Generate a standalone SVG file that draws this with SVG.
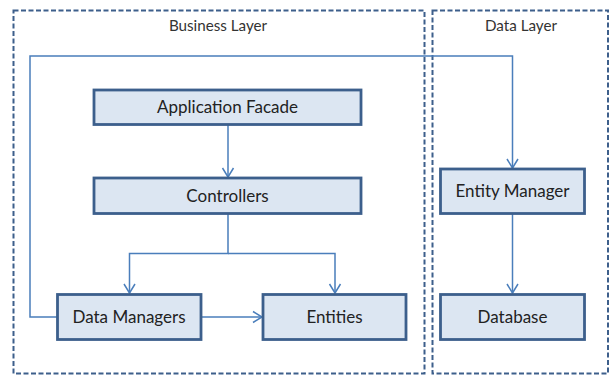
<svg xmlns="http://www.w3.org/2000/svg" width="611" height="375" viewBox="0 0 611 375">
<style>
.layer{fill:none;stroke:#3d5f8b;stroke-width:2;stroke-dasharray:5 2.5}
.node rect{fill:#dce6f2;stroke:#3c5f8c;stroke-width:2.8}
.lbl{font-family:Lato,"Liberation Sans",sans-serif;font-size:17px;fill:#222;text-anchor:middle}
.ttl{font-family:Lato,"Liberation Sans",sans-serif;font-size:15.2px;fill:#333;text-anchor:middle}
.conn{fill:none;stroke:#4a7ebb;stroke-width:1.5}
</style>
<defs>
<marker id="arr" markerUnits="userSpaceOnUse" markerWidth="20" markerHeight="20" viewBox="-10 -10 20 20" refX="0" refY="0" orient="auto">
<path d="M-9,-5.5 L0,0 L-9,5.5" fill="none" stroke="#4a7ebb" stroke-width="1.5"/>
</marker>
</defs>
<rect width="611" height="375" fill="#fff"/>
<g id="business-layer">
<rect class="layer" x="13.5" y="10.5" width="411" height="363"/>
<text class="ttl" x="218" y="31">Business Layer</text>
</g>
<g id="data-layer">
<rect class="layer" x="432.5" y="10.5" width="175.5" height="363"/>
<text class="ttl" x="521" y="31">Data Layer</text>
</g>
<g id="connectors">
<path class="conn" d="M228,124.5 V177" marker-end="url(#arr)"/>
<path class="conn" d="M228,213.5 V253.5 H129.5 V293" marker-end="url(#arr)"/>
<path class="conn" d="M228,253.5 H335 V293" marker-end="url(#arr)"/>
<path class="conn" d="M201,317 H262" marker-end="url(#arr)"/>
<path class="conn" d="M57,317 H30 V56 H512.5 V168" marker-end="url(#arr)"/>
<path class="conn" d="M512.5,213.5 V293" marker-end="url(#arr)"/>
</g>
<g id="application-facade" class="node">
<rect x="94" y="90" width="267" height="34.5"/>
<text class="lbl" x="227.5" y="113">Application Facade</text>
</g>
<g id="controllers" class="node">
<rect x="94" y="178" width="267" height="35.5"/>
<text class="lbl" x="227.5" y="201.5">Controllers</text>
</g>
<g id="data-managers" class="node">
<rect x="57.5" y="294.5" width="143.5" height="45"/>
<text class="lbl" x="129" y="323">Data Managers</text>
</g>
<g id="entities" class="node">
<rect x="263" y="294.5" width="143" height="45"/>
<text class="lbl" x="334.5" y="323">Entities</text>
</g>
<g id="entity-manager" class="node">
<rect x="440.5" y="169" width="144" height="44.5"/>
<text class="lbl" x="512.5" y="197">Entity Manager</text>
</g>
<g id="database" class="node">
<rect x="440.5" y="294.5" width="144" height="45"/>
<text class="lbl" x="512.5" y="323">Database</text>
</g>
</svg>
